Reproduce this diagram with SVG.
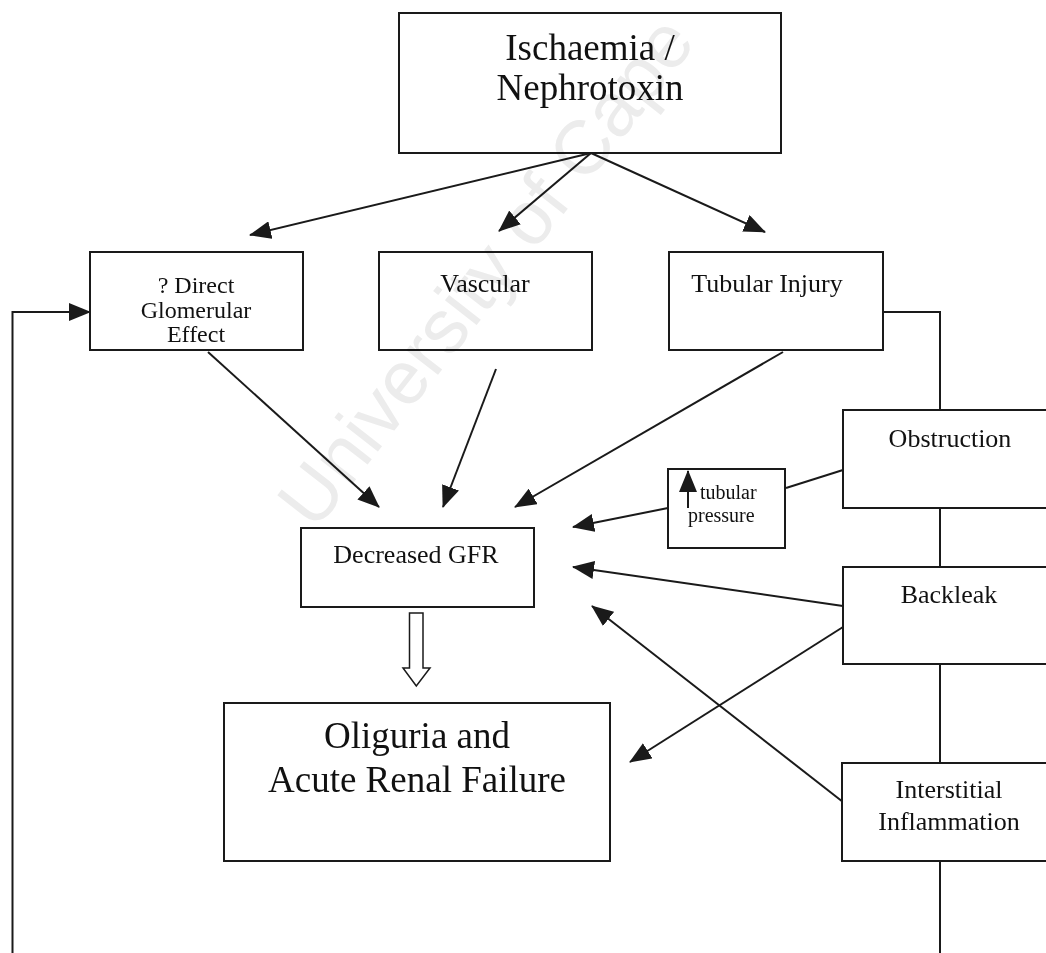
<svg xmlns="http://www.w3.org/2000/svg" width="1046" height="953" viewBox="0 0 1046 953">
<style>
.box{fill:#fff;stroke:#1a1a1a;stroke-width:2}
.ln{fill:none;stroke:#1a1a1a;stroke-width:2}
.arr{fill:none;stroke:#1a1a1a;stroke-width:2;marker-end:url(#ah)}
text{font-family:"Liberation Serif","Times New Roman",serif;fill:#111;text-anchor:middle}
.wm{font-family:"Liberation Sans",Arial,sans-serif;fill:#ececec;text-anchor:start}
</style>
<defs>
<marker id="ah" viewBox="0 0 22 18" refX="21" refY="9" markerWidth="22" markerHeight="18" markerUnits="userSpaceOnUse" orient="auto">
<path d="M0,0 L22,9 L0,18 z" fill="#1a1a1a"/>
</marker>
</defs>
<rect width="1046" height="953" fill="#fff"/>
<g id="connectors">
<line class="arr" x1="591" y1="153" x2="250" y2="235"/>
<line class="arr" x1="591" y1="153" x2="499" y2="231"/>
<line class="arr" x1="591" y1="153" x2="765" y2="232"/>
<polyline class="arr" points="12.5,953 12.5,312 90,312"/>
<polyline class="ln" points="883,312 940,312 940,410"/>
<line class="ln" x1="940" y1="508" x2="940" y2="567"/>
<line class="ln" x1="940" y1="664" x2="940" y2="763"/>
<line class="ln" x1="940" y1="861" x2="940" y2="953"/>
<line class="arr" x1="208" y1="352" x2="379" y2="507"/>
<line class="arr" x1="496" y1="369" x2="443" y2="507"/>
<line class="arr" x1="783" y1="352" x2="515" y2="507"/>
<line class="ln" x1="843" y1="470" x2="786" y2="488"/>
<line class="arr" x1="668" y1="508" x2="573" y2="527"/>
<line class="arr" x1="843" y1="606" x2="573" y2="567"/>
<line class="arr" x1="843" y1="627" x2="630" y2="762"/>
<line class="arr" x1="843" y1="802" x2="592" y2="606"/>
<path d="M409.5,613 H423 V668 H430 L416.3,686 L403,668 H409.5 Z" fill="#fff" stroke="#1a1a1a" stroke-width="1.5"/>
</g>
<g id="ischaemia">
<rect class="box" x="399" y="13" width="382" height="140"/>
<text x="590" y="60" font-size="37">Ischaemia /</text>
<text x="590" y="100" font-size="37">Nephrotoxin</text>
</g>
<g id="direct">
<rect class="box" x="90" y="252" width="213" height="98"/>
<text x="196" y="293" font-size="24">? Direct</text>
<text x="196" y="318" font-size="24">Glomerular</text>
<text x="196" y="342" font-size="24">Effect</text>
</g>
<g id="vascular">
<rect class="box" x="379" y="252" width="213" height="98"/>
<text x="485" y="292" font-size="26">Vascular</text>
</g>
<g id="tubular">
<rect class="box" x="669" y="252" width="214" height="98"/>
<text x="767" y="292" font-size="26">Tubular Injury</text>
</g>
<g id="obstruction">
<rect class="box" x="843" y="410" width="212" height="98"/>
<text x="950" y="447" font-size="26">Obstruction</text>
</g>
<g id="pressure">
<rect class="box" x="668" y="469" width="117" height="79"/>
<line class="arr" x1="688" y1="508" x2="688" y2="471"/>
<text x="700" y="499" font-size="20" style="text-anchor:start">tubular</text>
<text x="688" y="522" font-size="20" style="text-anchor:start">pressure</text>
</g>
<g id="backleak">
<rect class="box" x="843" y="567" width="212" height="97"/>
<text x="949" y="603" font-size="26">Backleak</text>
</g>
<g id="interstitial">
<rect class="box" x="842" y="763" width="213" height="98"/>
<text x="949" y="798" font-size="26">Interstitial</text>
<text x="949" y="830" font-size="26">Inflammation</text>
</g>
<g id="gfr">
<rect class="box" x="301" y="528" width="233" height="79"/>
<text x="416" y="563" font-size="26">Decreased GFR</text>
</g>
<g id="oliguria">
<rect class="box" x="224" y="703" width="386" height="158"/>
<text x="417" y="748" font-size="37">Oliguria and</text>
<text x="417" y="792" font-size="37">Acute Renal Failure</text>
</g>
<g id="watermark" style="mix-blend-mode:multiply">
<text class="wm" font-size="76" transform="translate(315,532) rotate(-52)">University of Cape</text>
</g>
</svg>
